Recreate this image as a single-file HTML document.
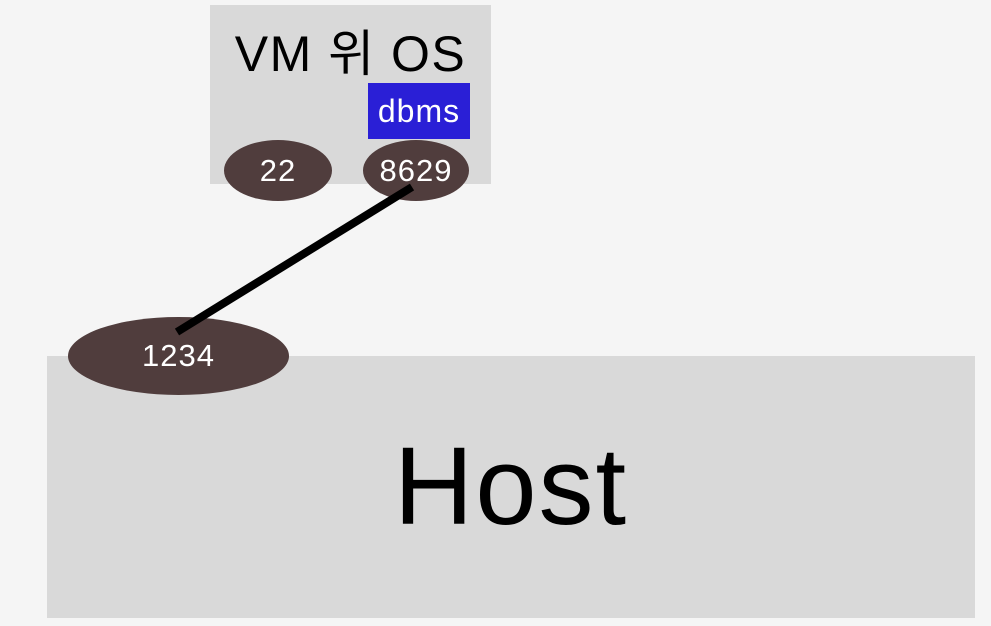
<!DOCTYPE html>
<html><head><meta charset="utf-8"><style>
html,body{margin:0;padding:0;background:#f5f5f5;width:991px;height:626px;overflow:hidden;font-family:"Liberation Sans","Noto Sans CJK KR",sans-serif;}
.a{position:absolute;}
.e{position:absolute;background:#503d3d;border-radius:50%;color:#fff;display:flex;align-items:center;justify-content:center;font-size:31px;letter-spacing:1px;}
</style></head><body>
<div class="a" style="left:210px;top:5px;width:281px;height:179px;background:#d9d9d9"></div>
<div class="a" style="left:210px;top:14px;width:281px;text-align:center;font-size:50px;letter-spacing:1.5px;color:#000">VM 위 OS</div>
<div class="a" style="left:368px;top:83px;width:102px;height:56px;background:#2a1fd6;color:#fff;font-size:32px;letter-spacing:1px;display:flex;align-items:center;justify-content:center">dbms</div>
<div class="e" style="left:224px;top:140px;width:108px;height:61px">22</div>
<div class="e" style="left:363px;top:140px;width:106px;height:61px">8629</div>
<div class="a" style="left:47px;top:356px;width:928px;height:262px;background:#d9d9d9"></div>
<div class="a" style="left:47px;top:423px;width:928px;text-align:center;font-size:110px;letter-spacing:2px;color:#000">Host</div>
<div class="e" style="left:68px;top:317px;width:221px;height:78px">1234</div>
<svg class="a" style="left:0;top:0" width="991" height="626"><line x1="412" y1="187" x2="177" y2="332" stroke="#000" stroke-width="8"/></svg>
</body></html>
